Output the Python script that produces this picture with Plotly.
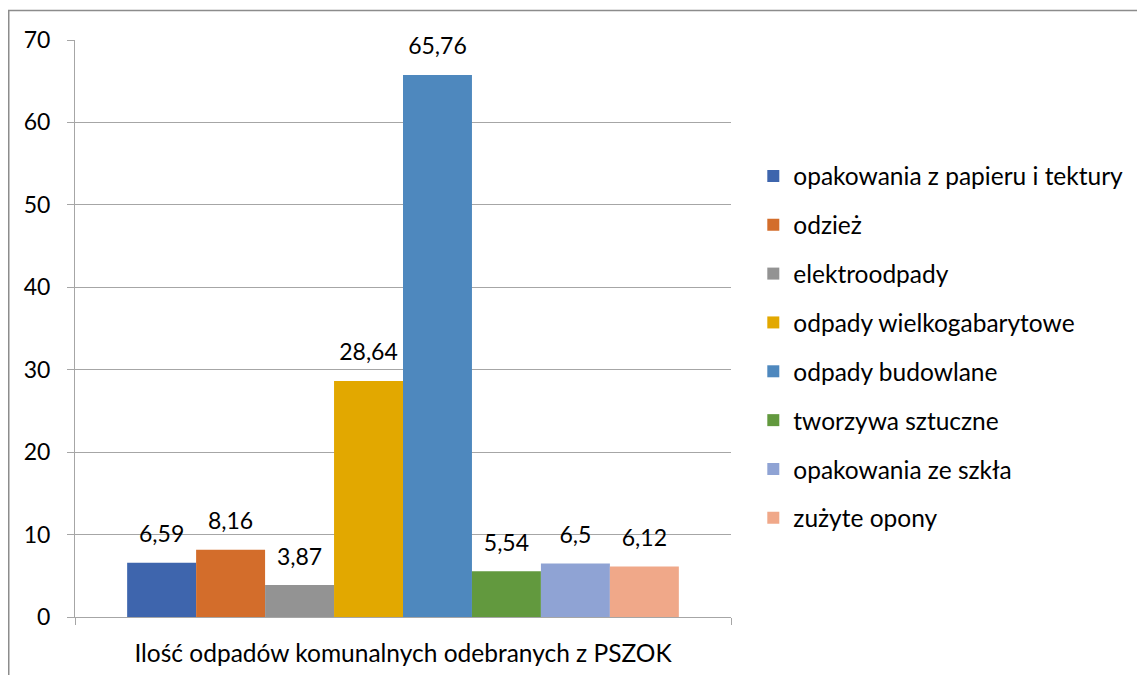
import plotly.graph_objects as go

category = ["Ilość odpadów komunalnych odebranych z PSZOK"]
series_names = [
    "opakowania z papieru i tektury",
    "odzież",
    "elektroodpady",
    "odpady wielkogabarytowe",
    "odpady budowlane",
    "tworzywa sztuczne",
    "opakowania ze szkła",
    "zużyte opony",
]
values = [6.59, 8.16, 3.87, 28.64, 65.76, 5.54, 6.5, 6.12]
colors = ["#3E65AD", "#D36D2B", "#939393", "#E2A800", "#4E88BE", "#62993E", "#8FA3D4", "#F0A889"]
y_ticks = [0, 10, 20, 30, 40, 50, 60, 70]

FONT = "Lato"
FS_TEXT = 24.5
FS_NUM = 23

fig = go.Figure()
for i, (name, v, c) in enumerate(zip(series_names, values, colors)):
    fig.add_trace(go.Bar(
        x=category, y=[v], name=name, marker=dict(color=c, line=dict(width=0)),
        legendgroup=f"g{i}", offsetgroup=f"o{i}",
    ))
for i, v in enumerate(values):
    fig.add_trace(go.Scatter(
        x=category, y=[v], mode="markers+text",
        text=[f"{v:g}".replace(".", ",")], textposition="top center",
        textfont=dict(family=FONT, size=FS_NUM, color="#000000"),
        marker=dict(size=22, opacity=0), showlegend=False, hoverinfo="skip",
        offsetgroup=f"o{i}", cliponaxis=False,
    ))

# page body has an 8px margin; plot area target on screen: x 75..731, y 40..617
fig.update_layout(
    width=1137, height=667,
    margin=dict(l=67, r=414, t=32, b=58),
    paper_bgcolor="white", plot_bgcolor="white",
    barmode="group", bargap=0.159, bargroupgap=0,
    scattermode="group", scattergap=0.159,
    font=dict(family=FONT, size=FS_NUM, color="#000000"),
    showlegend=True,
    legend=dict(x=1.034, xanchor="left", y=0.468, yanchor="middle",
                font=dict(family=FONT, size=FS_TEXT, color="#000000"),
                tracegroupgap=14, bgcolor="rgba(0,0,0,0)"),
    xaxis=dict(showline=True, linecolor="#A6A6A6", linewidth=1, automargin=False,
               ticks="outside", tickson="boundaries", ticklen=7, tickcolor="#A6A6A6",
               tickfont=dict(family=FONT, size=FS_TEXT, color="#000000"),
               ticklabelstandoff=15, showgrid=False),
    yaxis=dict(range=[0, 70], tickvals=y_ticks, showgrid=True, gridcolor="#A6A6A6", gridwidth=1,
               showline=True, linecolor="#A6A6A6", linewidth=1, zeroline=False, automargin=False,
               ticks="outside", ticklen=7, tickcolor="#A6A6A6", ticklabelstandoff=12),
    shapes=[dict(type="rect", xref="paper", yref="paper",
                 x0=(8.75 - 75) / 656, x1=(1144 - 75) / 656,
                 y0=(617 - 690) / 577, y1=(617 - 10.5) / 577,
                 line=dict(color="#8C8C8C", width=1.5), fillcolor="rgba(0,0,0,0)", layer="below")],
)

fig.write_html("out.html")
